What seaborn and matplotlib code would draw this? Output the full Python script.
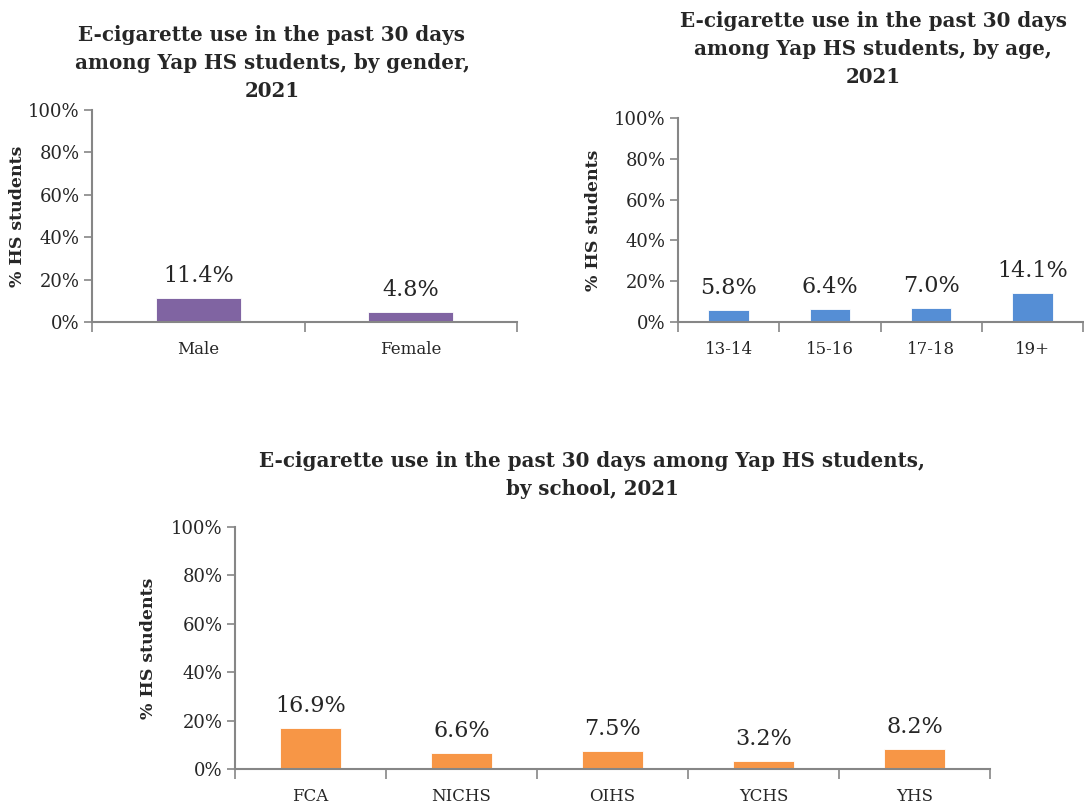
import matplotlib
matplotlib.use("Agg")
import matplotlib.pyplot as plt
import seaborn as sns
import pandas as pd
from matplotlib.ticker import PercentFormatter

gender_cats = ["Male", "Female"]
gender_vals = [11.4, 4.8]
age_cats = ["13-14", "15-16", "17-18", "19+"]
age_vals = [5.8, 6.4, 7.0, 14.1]
school_cats = ["FCA", "NICHS", "OIHS", "YCHS", "YHS"]
school_vals = [16.9, 6.6, 7.5, 3.2, 8.2]

sns.set_style("white")
plt.rcParams['font.family'] = ['DejaVu Serif']

AXIS_COLOR = "#868686"


def draw(ax, cats, vals, color):
    df = pd.DataFrame({"cat": cats, "val": vals})
    sns.barplot(data=df, x="cat", y="val", color=color, width=0.4,
                saturation=1, ax=ax, edgecolor="white", linewidth=0.6)
    n = len(cats)
    ax.set_xlim(-0.5, n - 0.5)
    ax.set_ylim(0, 100)
    ax.set_yticks(range(0, 101, 20))
    ax.yaxis.set_major_formatter(PercentFormatter(decimals=0))
    ax.set_xticks([i - 0.5 for i in range(n + 1)])
    ax.set_xticklabels([])
    ax.set_xticks(range(n), minor=True)
    ax.set_xticklabels(cats, minor=True)
    ax.tick_params(axis="x", which="major", length=7, width=1.2,
                   color=AXIS_COLOR, direction="out", bottom=True)
    ax.tick_params(axis="x", which="minor", length=0, pad=14, labelsize=12)
    ax.tick_params(axis="y", length=6, width=1.2, color=AXIS_COLOR,
                   direction="out", left=True, labelsize=13, pad=3)
    for s in ["top", "right"]:
        ax.spines[s].set_visible(False)
    for s in ["left", "bottom"]:
        ax.spines[s].set_color(AXIS_COLOR)
        ax.spines[s].set_linewidth(1.5)
    ax.set_xlabel("")
    ax.set_ylabel("% HS students", fontsize=12.5, fontweight="bold")
    for i, v in enumerate(vals):
        ax.annotate(f"{v:.1f}%", (i, v), xytext=(0, 8), textcoords="offset points",
                    ha="center", va="bottom", fontsize=16)


fig = plt.figure(figsize=(10.84, 8.08), dpi=100)
ax1 = fig.add_axes([0.0849, 0.6015, 0.3921, 0.2624])
ax2 = fig.add_axes([0.6255, 0.6015, 0.3736, 0.2525])
ax3 = fig.add_axes([0.2168, 0.0483, 0.6965, 0.2995])

draw(ax1, gender_cats, gender_vals, "#8064A2")
draw(ax2, age_cats, age_vals, "#558ED5")
draw(ax3, school_cats, school_vals, "#F79646")

ax1.yaxis.set_label_coords(-0.155, 0.5)
ax2.yaxis.set_label_coords(-0.188, 0.5)
ax3.yaxis.set_label_coords(-0.103, 0.5)

title_kw = dict(ha="center", va="center", fontsize=14.3, fontweight="bold", linespacing=1.5)
fig.text(272 / 1084, 1 - 63 / 808,
         "E-cigarette use in the past 30 days\namong Yap HS students, by gender,\n2021",
         **title_kw)
fig.text(873 / 1084, 1 - 49 / 808,
         "E-cigarette use in the past 30 days\namong Yap HS students, by age,\n2021",
         **title_kw)
fig.text(592 / 1084, 1 - 475 / 808,
         "E-cigarette use in the past 30 days among Yap HS students,\nby school, 2021",
         **title_kw)

fig.savefig("out.png", dpi=100)
